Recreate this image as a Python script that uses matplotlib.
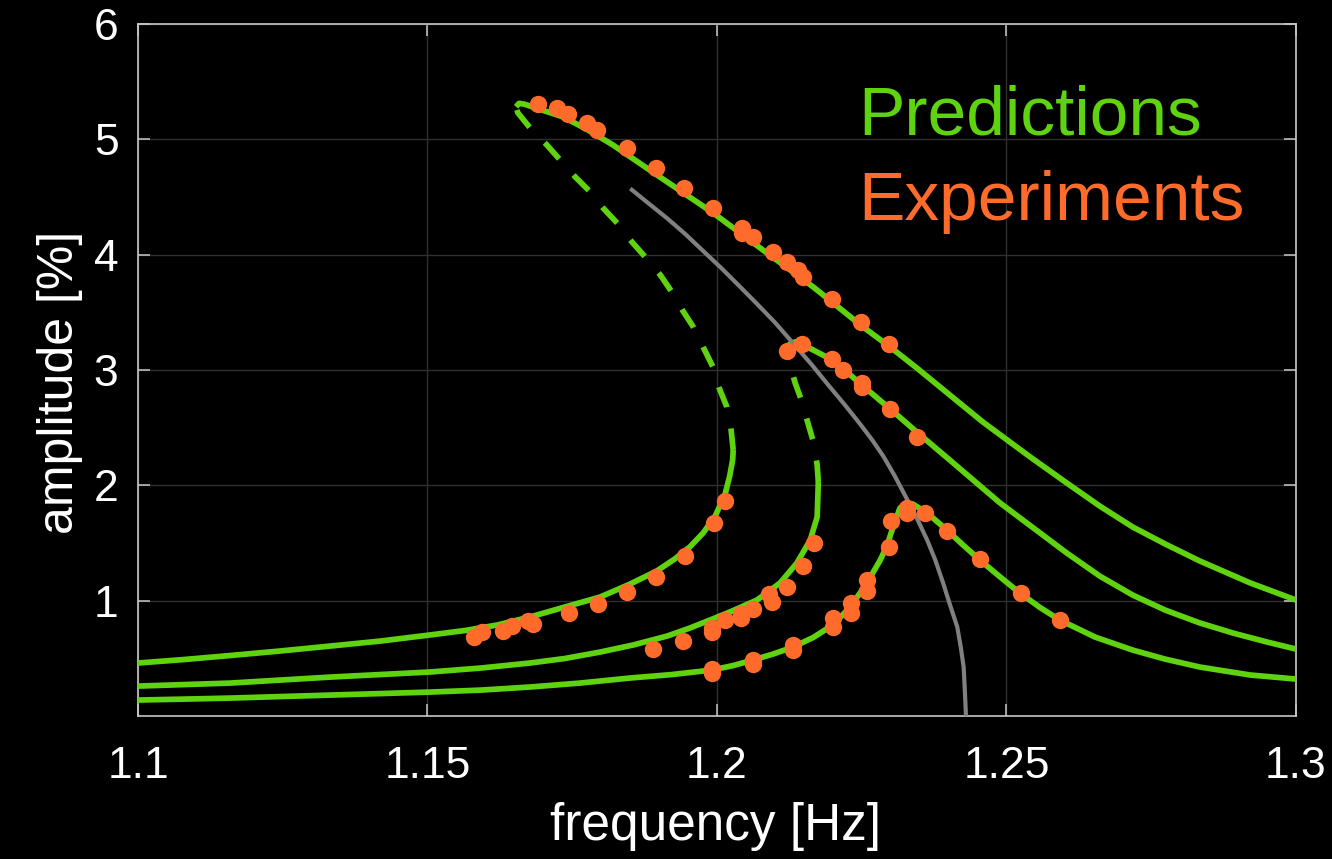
import matplotlib
matplotlib.use("Agg")
import matplotlib.pyplot as plt

plt.rcParams['font.family'] = ['Liberation Sans', 'DejaVu Sans']

GREEN = "#5fd30f"
ORANGE = "#ff6b2b"
GREY = "#808080"
FRAME = "#c8c8c8"

# ---- model predictions: frequency [Hz] / amplitude [%] ----
# high forcing level: stable lower branch, unstable (dashed) branch, stable upper branch
f1_lower = [1.1000, 1.1079, 1.1159, 1.1245, 1.1332, 1.1418, 1.1504, 1.1565, 1.1620,
            1.1677, 1.1734, 1.1798, 1.1850, 1.1896, 1.1927, 1.1953, 1.1976, 1.1997,
            1.2014, 1.2022, 1.2027, 1.2028]
a1_lower = [0.460, 0.490, 0.525, 0.564, 0.607, 0.650, 0.703, 0.742, 0.789,
            0.859, 0.941, 1.032, 1.145, 1.258, 1.362, 1.466, 1.587, 1.735,
            1.925, 2.082, 2.220, 2.307]
f1_unstable = [1.2028, 1.2024, 1.2017, 1.2003, 1.1993, 1.1976, 1.1959, 1.1940, 1.1922,
               1.1902, 1.1876, 1.1853, 1.1829, 1.1803, 1.1781, 1.1755, 1.1732, 1.1706,
               1.1680, 1.1656, 1.1653]
a1_unstable = [2.307, 2.498, 2.680, 2.853, 3.027, 3.200, 3.374, 3.521, 3.677,
               3.825, 3.981, 4.111, 4.267, 4.406, 4.545, 4.675, 4.805, 4.952,
               5.082, 5.230, 5.282]
f1_upper = [1.1653, 1.1658, 1.1668, 1.1694, 1.1734, 1.1777, 1.1820, 1.1896, 1.1993,
            1.2079, 1.2166, 1.2252, 1.2299, 1.2345, 1.2402, 1.2459, 1.2541, 1.2604,
            1.2661, 1.2718, 1.2774, 1.2834, 1.2921, 1.3000]
a1_upper = [5.282, 5.312, 5.304, 5.260, 5.195, 5.082, 4.952, 4.692, 4.363,
            4.042, 3.721, 3.374, 3.200, 3.018, 2.784, 2.550, 2.246, 2.021,
            1.821, 1.639, 1.492, 1.344, 1.154, 1.006]

# medium forcing level
f2_lower = [1.1000, 1.1079, 1.1159, 1.1245, 1.1332, 1.1418, 1.1504, 1.1591, 1.1677,
            1.1737, 1.1798, 1.1855, 1.1914, 1.1953, 1.1988, 1.2022, 1.2069, 1.2109,
            1.2138, 1.2161, 1.2173, 1.2174, 1.2175]
a2_lower = [0.260, 0.273, 0.286, 0.312, 0.338, 0.360, 0.382, 0.416, 0.460,
            0.499, 0.555, 0.616, 0.694, 0.763, 0.833, 0.902, 1.006, 1.154,
            1.327, 1.526, 1.726, 1.873, 2.029]
f2_unstable = [1.2175, 1.2173, 1.2167, 1.2157, 1.2147, 1.2135, 1.2126, 1.2122]
a2_unstable = [2.029, 2.177, 2.368, 2.541, 2.723, 2.888, 3.044, 3.174]
f2_upper = [1.2122, 1.2126, 1.2135, 1.2149, 1.2199, 1.2218, 1.2250, 1.2299, 1.2347,
            1.2402, 1.2489, 1.2604, 1.2661, 1.2718, 1.2774, 1.2834, 1.2891, 1.2950, 1.3000]
a2_upper = [3.174, 3.226, 3.244, 3.218, 3.088, 3.010, 2.871, 2.663, 2.454,
            2.220, 1.847, 1.414, 1.214, 1.049, 0.919, 0.807, 0.720, 0.642, 0.581]

# low forcing level (single-valued)
f3 = [1.1000, 1.1079, 1.1159, 1.1245, 1.1332, 1.1418, 1.1504, 1.1591, 1.1677, 1.1763,
      1.1850, 1.1922, 1.1991, 1.2028, 1.2062, 1.2097, 1.2131, 1.2166, 1.2200, 1.2230,
      1.2247, 1.2259, 1.2282, 1.2294, 1.2304, 1.2316, 1.2326, 1.2338, 1.2363, 1.2397,
      1.2425, 1.2454, 1.2489, 1.2523, 1.2558, 1.2592, 1.2653, 1.2718, 1.2774, 1.2834,
      1.2921, 1.3000]
a3 = [0.139, 0.147, 0.156, 0.169, 0.182, 0.195, 0.208, 0.225, 0.252, 0.286,
      0.330, 0.360, 0.399, 0.438, 0.486, 0.538, 0.598, 0.681, 0.789, 0.945,
      1.067, 1.154, 1.353, 1.483, 1.639, 1.804, 1.847, 1.839, 1.761, 1.613,
      1.483, 1.353, 1.206, 1.067, 0.941, 0.833, 0.685, 0.572, 0.494, 0.425,
      0.356, 0.321]

# backbone curve
f_bb = [1.1853, 1.1884, 1.1914, 1.1945, 1.1974, 1.2007, 1.2040, 1.2069, 1.2100,
        1.2131, 1.2164, 1.2195, 1.2221, 1.2247, 1.2268, 1.2287, 1.2307, 1.2328,
        1.2345, 1.2363, 1.2377, 1.2390, 1.2402, 1.2415, 1.2421, 1.2426, 1.2428, 1.2430]
a_bb = [4.562, 4.436, 4.315, 4.180, 4.042, 3.886, 3.721, 3.574, 3.413,
        3.235, 3.044, 2.853, 2.697, 2.533, 2.394, 2.255, 2.082, 1.882,
        1.717, 1.526, 1.353, 1.162, 0.971, 0.772, 0.598, 0.425, 0.226, 0.0]

# ---- measurements ----
f1_exp = [1.1580, 1.1594, 1.1630, 1.1646, 1.1674, 1.1682, 1.1744, 1.1794, 1.1845,
          1.1895, 1.1945, 1.1995, 1.2014,
          1.1691, 1.1724, 1.1743, 1.1775, 1.1793, 1.1845, 1.1895, 1.1943, 1.1993,
          1.2043, 1.2043, 1.2062, 1.2097, 1.2121, 1.2140, 1.2149, 1.2199, 1.2249, 1.2297]
a1_exp = [0.685, 0.729, 0.737, 0.781, 0.824, 0.798, 0.893, 0.971, 1.075,
          1.206, 1.388, 1.674, 1.865,
          5.308, 5.273, 5.221, 5.143, 5.082, 4.926, 4.753, 4.579, 4.406,
          4.232, 4.189, 4.154, 4.024, 3.938, 3.868, 3.807, 3.617, 3.417, 3.226]

f2_exp = [1.1889, 1.1941, 1.1991, 1.1991, 1.2014, 1.2041, 1.2041, 1.2062, 1.2090,
          1.2095, 1.2121, 1.2149, 1.2168,
          1.2121, 1.2147, 1.2199, 1.2218, 1.2250, 1.2251, 1.2299, 1.2345]
a2_exp = [0.581, 0.650, 0.763, 0.729, 0.833, 0.885, 0.850, 0.928, 1.058,
          0.989, 1.119, 1.301, 1.500,
          3.166, 3.226, 3.096, 3.001, 2.888, 2.853, 2.663, 2.420]

f3_exp = [1.1991, 1.1991, 1.2062, 1.2062, 1.2131, 1.2131, 1.2200, 1.2200, 1.2231,
          1.2231, 1.2259, 1.2259, 1.2297, 1.2301,
          1.2328, 1.2328, 1.2359, 1.2397, 1.2454, 1.2525, 1.2592]
a3_exp = [0.408, 0.373, 0.486, 0.451, 0.616, 0.572, 0.850, 0.772, 0.980,
          0.893, 1.180, 1.084, 1.466, 1.691,
          1.804, 1.761, 1.761, 1.605, 1.362, 1.067, 0.833]

x_ticks = [1.1, 1.15, 1.2, 1.25, 1.3]
x_ticklabels = ["1.1", "1.15", "1.2", "1.25", "1.3"]
y_ticks = [1, 2, 3, 4, 5, 6]

fig = plt.figure(figsize=(13.32, 8.59), dpi=100, facecolor="black")
ax = fig.add_axes([138 / 1332, 1 - 715.5 / 859, 1158 / 1332, 691.5 / 859])
ax.set_facecolor("black")

lw = 4.1
dash = (0, (3.8, 3.8))
kw = dict(color=GREEN, lw=lw, solid_capstyle="butt", solid_joinstyle="round", zorder=3)
ax.plot(f1_lower, a1_lower, **kw)
ax.plot(f1_unstable, a1_unstable, ls=dash, dash_capstyle="butt", **kw)
ax.plot(f1_upper, a1_upper, **kw)
ax.plot(f2_lower, a2_lower, **kw)
ax.plot(f2_unstable, a2_unstable, ls=dash, dash_capstyle="butt", **kw)
ax.plot(f2_upper, a2_upper, **kw)
ax.plot(f3, a3, **kw)
ax.plot(f_bb, a_bb, color=GREY, lw=3.0, solid_joinstyle="round", zorder=4)

for fe, ae in ((f1_exp, a1_exp), (f2_exp, a2_exp), (f3_exp, a3_exp)):
    ax.plot(fe, ae, ls="none", marker="o", ms=12.5, mew=0, color=ORANGE, zorder=5)

ax.set_xlim(1.1, 1.3)
ax.set_ylim(0.005, 6)
ax.set_xticks(x_ticks)
ax.set_xticklabels(x_ticklabels)
ax.set_yticks(y_ticks)
ax.grid(True, color="#303030", lw=1.0)
ax.set_axisbelow(True)
for sp in ax.spines.values():
    sp.set_color(FRAME)
    sp.set_linewidth(1.2)
ax.tick_params(direction="in", length=8.5, width=1.1, color=FRAME, labelcolor="white",
               labelsize=32, top=True, right=True)
ax.tick_params(axis="x", pad=22)
ax.tick_params(axis="y", pad=14)

fig.text(716 / 1332, 1 - 840 / 859, "frequency [Hz]", color="white", fontsize=37,
         ha="center", va="baseline")
fig.text(60 / 1332, 1 - 382 / 859, "amplitude [%]", color="white", fontsize=36,
         rotation=90, ha="center", va="center")

ax.text(0.6218, 0.8395, "Predictions", transform=ax.transAxes, color=GREEN,
        fontsize=50, ha="left", va="baseline")
ax.text(0.6218, 0.7166, "Experiments", transform=ax.transAxes, color=ORANGE,
        fontsize=50, ha="left", va="baseline")

fig.savefig("out.png", dpi=100, facecolor="black")
